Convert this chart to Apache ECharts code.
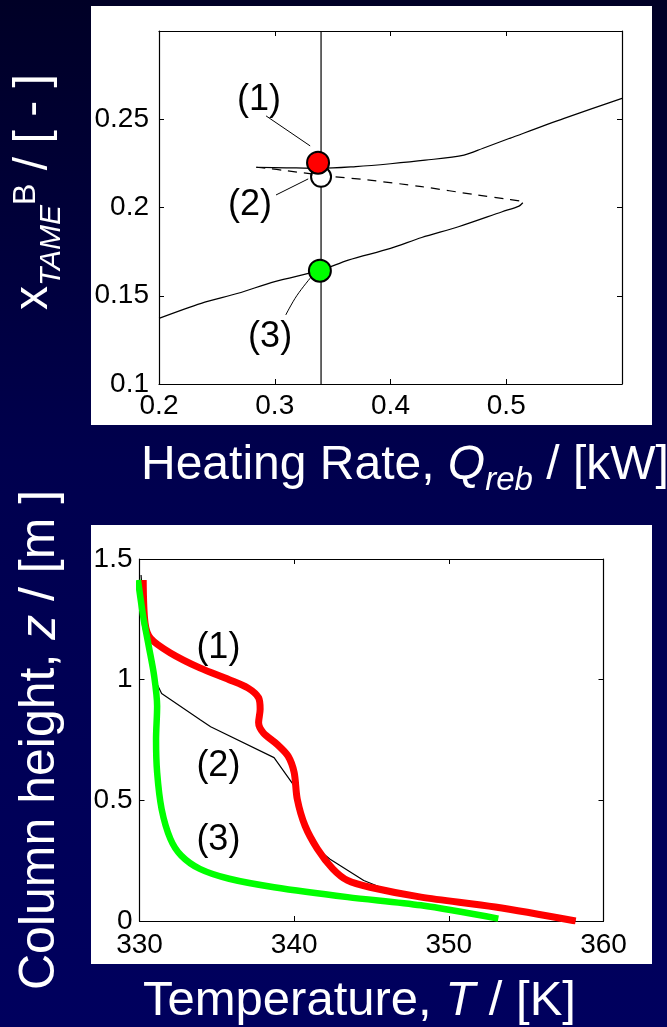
<!DOCTYPE html>
<html><head><meta charset="utf-8">
<script src="https://cdn.jsdelivr.net/npm/echarts@6/dist/echarts.min.js"></script>
<style>
html,body{margin:0;padding:0;width:667px;height:1027px;overflow:hidden;background:linear-gradient(to bottom,#000026 0%,#00004e 45%,#00005e 100%);}
#c{width:667px;height:1027px;}
</style></head><body><div id="c"></div>
<script>
// ---------- DATA ----------
// Top panel: bifurcation diagram x_TAME^B vs Q_reb
const topXTicks = [0.2, 0.3, 0.4, 0.5];
const topYTicks = [0.1, 0.15, 0.2, 0.25];
const qVertical = [[0.34, 0.1], [0.34, 0.3]];
const upperBranch = [[0.284,0.2228],[0.31,0.2225],[0.34,0.2222],[0.37,0.2232],[0.40,0.2248],[0.43,0.2268],[0.4635,0.2297],[0.48,0.2336],[0.503,0.2392],[0.55,0.2505],[0.60,0.2618]];
const unstableBranch = [[0.284,0.2228],[0.2937,0.2222],[0.3095,0.2209],[0.351,0.2175],[0.379,0.2157],[0.427,0.2118],[0.4746,0.2071],[0.50,0.2048],[0.5127,0.2036],[0.5143,0.2027]];
const lowerBranch = [[0.5143,0.2027],[0.511,0.2008],[0.4965,0.1976],[0.4587,0.1891],[0.427,0.1830],[0.40,0.1768],[0.3635,0.1702],[0.34,0.1645],[0.30,0.1580],[0.2683,0.1514],[0.2365,0.1457],[0.20,0.1372]];
const state1 = [[0.3374, 0.2254]];
const state2 = [[0.340, 0.2174]];
const state3 = [[0.339, 0.1642]];
const topLabels = [[0.2864,0.2606,'(1)'],[0.2786,0.2014,'(2)'],[0.296,0.1268,'(3)']];
const leader1 = [[0.2925,0.2519],[0.3306,0.2349]];
const leader2 = [[0.3011,0.2071],[0.3289,0.2162]];
const leader3 = [[0.3095,0.1391],[0.3190,0.1500],[0.3317,0.1608]];

// Bottom panel: temperature profiles z vs T
const botXTicks = [330, 340, 350, 360];
const botYTicks = [0, 0.5, 1, 1.5];
const profile1 = [[330.24,1.413],[330.36,1.234],[330.71,1.172],[332.0,1.111],[333.9,1.049],[335.8,1.0],[337.0,0.966],[337.7,0.925],[337.8,0.877],[337.7,0.822],[338.0,0.780],[338.9,0.732],[339.6,0.684],[340.0,0.615],[340.2,0.505],[340.7,0.395],[341.5,0.299],[342.5,0.216],[343.45,0.168],[344.9,0.140],[348.2,0.099],[353.0,0.058],[358.2,0.0]];
const profile2 = [[330.1,1.434],[330.3,1.26],[330.65,1.13],[331.0,1.0],[331.43,0.943],[333.9,0.835],[334.6,0.805],[338.7,0.677],[340.0,0.560],[340.2,0.505],[340.7,0.395],[341.5,0.300],[342.3,0.257],[344.5,0.168],[345.5,0.142],[348.2,0.099],[353.0,0.058],[358.2,0.0]];
const profile3 = [[329.9,1.413],[330.24,1.262],[330.6,1.138],[330.95,1.014],[331.14,0.890],[331.07,0.753],[331.14,0.615],[331.43,0.464],[332.0,0.340],[332.7,0.271],[333.9,0.216],[335.8,0.175],[338.7,0.140],[343.45,0.099],[348.2,0.065],[353.2,0.010]];
const botLabels = [[335.1,1.131,'(1)'],[335.1,0.643,'(2)'],[335.1,0.335,'(3)']];

// ---------- RENDER ----------
const FF = '"Liberation Sans", Arial, Helvetica, sans-serif';
const ctx = document.createElement('canvas').getContext('2d');
function tw(t, fs, it) { ctx.font = (it ? 'italic ' : '') + fs + 'px "Liberation Sans"'; return ctx.measureText(t).width; }
function pieces(parts) {
  let x = 0; const out = [];
  parts.forEach(p => {
    const fs = p.fs || 48;
    out.push({ type: 'text', x: x, y: (p.dy || 0) - 0.3465 * fs, z: 50,
      style: { text: p.t, fill: '#fff', fontSize: fs, fontFamily: FF, fontStyle: p.it ? 'italic' : 'normal', align: 'left', verticalAlign: 'middle' } });
    x += tw(p.t, fs, p.it);
  });
  return out;
}
function fmt(ticks) { return v => ticks.some(t => Math.abs(t - v) < 1e-9) ? String(+v.toFixed(3)) : ''; }
function axis(o) {
  return Object.assign({
    type: 'value', splitLine: { show: false },
    axisLine: { show: true, onZero: false, lineStyle: { color: '#000', width: 1.2 } },
    axisTick: { show: true, inside: true, length: 5, lineStyle: { color: '#000', width: 1 } },
    axisLabel: { color: '#000', fontSize: 28, fontFamily: FF }
  }, o);
}
const noLab = { show: false };
const thin = { color: '#000', width: 1.2 };
function line(xi, data, ls, extra) {
  return Object.assign({ type: 'line', xAxisIndex: xi, yAxisIndex: xi, data: data, showSymbol: false, symbol: 'none', lineStyle: ls, silent: true, z: 3 }, extra || {});
}
function dot(data, color, size) {
  return { type: 'scatter', xAxisIndex: 0, yAxisIndex: 0, data: data, symbolSize: size, itemStyle: { color: color, opacity: 1, borderColor: '#000', borderWidth: 2 }, z: 5, silent: true };
}
function labels(xi, data) {
  return { type: 'scatter', xAxisIndex: xi, yAxisIndex: xi, data: data, symbolSize: 2, itemStyle: { color: 'rgba(0,0,0,0)', opacity: 1 }, z: 6, silent: true,
    label: { show: true, position: 'inside', formatter: p => p.value[2], color: '#000', fontSize: 36, fontFamily: FF } };
}

const chart = echarts.init(document.getElementById('c'), null, { renderer: 'canvas' });
chart.setOption({
  animation: false,
  backgroundColor: 'transparent',
  grid: [
    { left: 159, top: 31, width: 463, height: 353 },
    { left: 139.5, top: 559, width: 464, height: 362 }
  ],
  xAxis: [
    axis({ gridIndex: 0, min: 0.2, max: 0.6, interval: 0.1, position: 'bottom', axisLabel: { color: '#000', fontSize: 28, fontFamily: FF, margin: 8, formatter: fmt(topXTicks) } }),
    axis({ gridIndex: 0, min: 0.2, max: 0.6, interval: 0.1, position: 'top', axisLabel: noLab }),
    axis({ gridIndex: 1, min: 330, max: 360, interval: 10, position: 'bottom', axisLabel: { color: '#000', fontSize: 28, fontFamily: FF, margin: 10, formatter: fmt(botXTicks) } }),
    axis({ gridIndex: 1, min: 330, max: 360, interval: 10, position: 'top', axisLabel: noLab })
  ],
  yAxis: [
    axis({ gridIndex: 0, min: 0.1, max: 0.3, interval: 0.05, position: 'left', axisLabel: { color: '#000', fontSize: 28, fontFamily: FF, margin: 10, formatter: fmt(topYTicks) } }),
    axis({ gridIndex: 0, min: 0.1, max: 0.3, interval: 0.05, position: 'right', axisLabel: noLab }),
    axis({ gridIndex: 1, min: 0, max: 1.5, interval: 0.5, position: 'left', axisLabel: { color: '#000', fontSize: 28, fontFamily: FF, margin: 7, formatter: fmt(botYTicks) } }),
    axis({ gridIndex: 1, min: 0, max: 1.5, interval: 0.5, position: 'right', axisLabel: noLab })
  ],
  series: [
    line(0, qVertical, thin),
    line(0, upperBranch, thin, { smooth: 0.3 }),
    line(0, unstableBranch, { color: '#000', width: 1.2, type: [9, 7] }, { smooth: 0.3 }),
    line(0, lowerBranch, thin, { smooth: 0.3 }),
    line(0, leader1, { color: '#000', width: 1 }),
    line(0, leader2, { color: '#000', width: 1 }),
    line(0, leader3, { color: '#000', width: 1 }, { smooth: 0.4 }),
    dot(state2, '#fff', 20),
    dot(state1, '#ff0000', 22),
    dot(state3, '#00ff00', 22),
    labels(0, topLabels),
    Object.assign(line(2, profile2, thin), { xAxisIndex: 2, yAxisIndex: 2 }),
    Object.assign(line(2, profile1, { color: '#ff0000', width: 7 }, { smooth: 0.3 }), { xAxisIndex: 2, yAxisIndex: 2 }),
    Object.assign(line(2, profile3, { color: '#00ff00', width: 6.5 }, { smooth: 0.3 }), { xAxisIndex: 2, yAxisIndex: 2, z: 4 }),
    Object.assign(labels(2, botLabels), { xAxisIndex: 2, yAxisIndex: 2 })
  ],
  graphic: { elements: [
    { type: 'rect', z: -100, shape: { x: 91, y: 6, width: 561, height: 419 }, style: { fill: '#fff' }, silent: true },
    { type: 'rect', z: -100, shape: { x: 91, y: 525, width: 561, height: 439 }, style: { fill: '#fff' }, silent: true },
    { type: 'group', x: 50, y: 310, rotation: Math.PI / 2, children: pieces([
      { t: 'x', fs: 48 }, { t: 'TAME', fs: 30, it: true, dy: 12 }, { t: 'B', fs: 32, dy: -13 }, { t: ' / [ - ]', fs: 48 }
    ]) },
    { type: 'group', x: 141, y: 482, children: pieces([
      { t: 'Heating Rate, ', fs: 48 }, { t: 'Q', fs: 48, it: true }, { t: 'reb', fs: 33, it: true, dy: 10 }, { t: ' / [kW]', fs: 48 }
    ]) },
    { type: 'group', x: 58, y: 990, rotation: Math.PI / 2, children: pieces([
      { t: 'Column height, ', fs: 50 }, { t: 'z', fs: 50, it: true }, { t: ' / [m ]', fs: 50 }
    ]) },
    { type: 'group', x: 143, y: 1018, children: pieces([
      { t: 'Temperature, ', fs: 49 }, { t: 'T', fs: 49, it: true }, { t: ' / [K]', fs: 49 }
    ]) }
  ] }
});
</script></body></html>
